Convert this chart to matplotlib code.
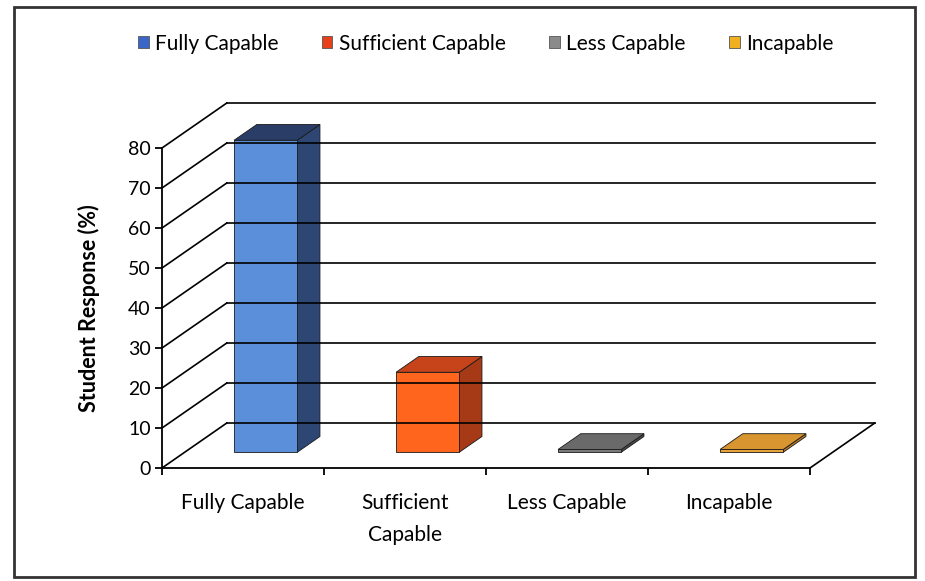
import matplotlib.pyplot as plt
import matplotlib
from matplotlib.patches import Polygon, Rectangle, Patch

matplotlib.rcParams['font.family'] = ['Lato', 'DejaVu Sans']

# data
categories = ['Fully Capable', 'Sufficient Capable', 'Less Capable', 'Incapable']
tick_labels = ['Fully Capable', 'Sufficient\nCapable', 'Less Capable', 'Incapable']
values = [78, 20, 0.7, 0.7]
front_colors = ['#5b8fd9', '#ff651c', '#7a7a7a', '#e8a33a']
side_colors = ['#2d4674', '#a63a16', '#4a4a4a', '#b57a20']
top_colors = ['#2a3d66', '#c7441a', '#6a6a6a', '#d99530']
legend_colors = ['#3a66c8', '#e8401a', '#8a8a8a', '#f0b020']
yticks = [0, 10, 20, 30, 40, 50, 60, 70, 80]

# oblique "3d" depth, in data units
DX, DY = 0.40, 11.25
z0, z1 = 0.35, 0.70
hw = 0.195

def proj(x, y, z):
    return (x + z * DX, y + z * DY)

fig = plt.figure(figsize=(9.25, 5.81), dpi=100)
ax = fig.add_axes([162/925, 113/581, 648/925, 320/581])
ax.set_xlim(0, 4)
ax.set_ylim(0, 80)
ax.patch.set_visible(False)

# walls: diagonals + back gridlines
for v in yticks:
    ax.plot([0, DX], [v, v + DY], color='black', lw=1.2, clip_on=False)
    ax.plot([DX, 4 + DX], [v + DY, v + DY], color='black', lw=1.2, clip_on=False)
ax.plot([4, 4 + DX], [0, DY], color='black', lw=1.2, clip_on=False)

# bars
for i, v in enumerate(values):
    c = i + 0.5
    xl, xr = c - hw, c + hw
    front = [proj(xl, 0, z0), proj(xr, 0, z0), proj(xr, v, z0), proj(xl, v, z0)]
    side = [proj(xr, 0, z0), proj(xr, 0, z1), proj(xr, v, z1), proj(xr, v, z0)]
    top = [proj(xl, v, z0), proj(xr, v, z0), proj(xr, v, z1), proj(xl, v, z1)]
    ax.add_patch(Polygon(side, closed=True, fc=side_colors[i], ec='#1a1a1a', lw=0.6, clip_on=False))
    ax.add_patch(Polygon(top, closed=True, fc=top_colors[i], ec='#1a1a1a', lw=0.6, clip_on=False))
    ax.add_patch(Polygon(front, closed=True, fc=front_colors[i], ec='#1a1a1a', lw=0.6, clip_on=False))

# axes
for s in ['top', 'right']:
    ax.spines[s].set_visible(False)
ax.spines['left'].set_linewidth(1.3)
ax.spines['bottom'].set_linewidth(1.3)
ax.set_yticks(yticks)
ax.tick_params(axis='y', labelsize=14, length=5, width=1.3, pad=3)
ax.set_xticks([0, 1, 2, 3, 4])
ax.set_xticklabels([])
ax.tick_params(axis='x', length=5, width=1.3, direction='out')
for i, lab in enumerate(tick_labels):
    ax.text(i + 0.5, -6.3, lab, ha='center', va='top', fontsize=15, linespacing=1.75)
ax.set_ylabel('Student Response (%)', fontsize=15.5, fontweight='bold', labelpad=20)

# legend
handles = [Patch(facecolor=legend_colors[i], edgecolor='#555555', lw=0.6) for i in range(4)]
fig.legend(handles, categories, loc='center', bbox_to_anchor=(0.525, 0.925), ncol=4,
           frameon=False, fontsize=15, handlelength=0.5, handleheight=0.5,
           handletextpad=0.3, columnspacing=2.1)

# outer frame
fig.patches.append(Rectangle((14/925, 4/581), 901/925, 570/581, transform=fig.transFigure,
                             fill=False, ec='#333333', lw=2))

fig.savefig('out.png', dpi=100)
